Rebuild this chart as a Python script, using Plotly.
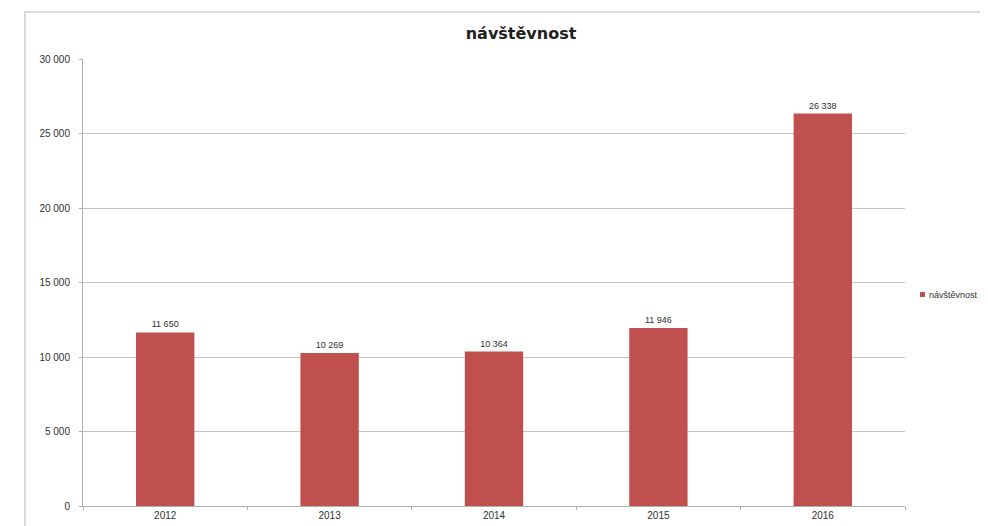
import plotly.graph_objects as go

categories = ["2012", "2013", "2014", "2015", "2016"]
values = [11650, 10269, 10364, 11946, 26338]
series_name = "návštěvnost"
title_text = "návštěvnost"
y_ticks = [0, 5000, 10000, 15000, 20000, 25000, 30000]

BAR_COLOR = "#C0504D"
TXT = "#303030"
FONT = "Liberation Sans"

W, H = 988, 526
# plot area in figure pixels (page has 8px body offset)
L, R, T, B = 75, 897, 51, 498
pw, ph = R - L, B - T


def px(x):
    return (x - L) / pw


def py(y):
    return (B - y) / ph


fig = go.Figure()
fig.add_trace(go.Bar(
    x=categories, y=values, name=series_name,
    marker=dict(color=BAR_COLOR, line=dict(width=0)),
    texttemplate="%{y:,}", textposition="outside",
    textfont=dict(size=9, color=TXT, family=FONT),
    cliponaxis=False, showlegend=False,
))

fig.update_layout(
    width=W, height=H,
    margin=dict(l=L, r=W - R, t=T, b=H - B, autoexpand=False),
    paper_bgcolor="white", plot_bgcolor="white",
    separators=", ",
    bargap=0.645,
    showlegend=False,
    title=dict(text="<b>" + title_text + "</b>", x=513 / W, xanchor="center",
               y=1 - 25 / H, yanchor="middle",
               font=dict(size=16, color="#202020", family="DejaVu Sans")),
    xaxis=dict(showline=True, linecolor="#b0b0b0", linewidth=1,
               ticks="outside", ticklen=3, tickcolor="#b0b0b0",
               tickson="boundaries", showgrid=False,
               tickfont=dict(size=10, color=TXT, family=FONT)),
    yaxis=dict(range=[0, 30000], tickvals=y_ticks, tickformat=",",
               showline=True, linecolor="#b0b0b0", linewidth=1,
               ticks="outside", ticklen=3, tickcolor="#b0b0b0",
               ticklabelstandoff=7,
               showgrid=True, gridcolor="#c4c4c4", gridwidth=1,
               zeroline=False,
               tickfont=dict(size=10, color=TXT, family=FONT)),
)

# legend (emulated so it fits inside the window)
fig.add_shape(type="rect", xref="paper", yref="paper",
              x0=px(912), x1=px(917), y0=py(289), y1=py(284),
              line=dict(width=0), fillcolor=BAR_COLOR)
fig.add_annotation(xref="paper", yref="paper", x=px(919), y=py(286.5),
                   xanchor="left", yanchor="middle", showarrow=False,
                   text=series_name, font=dict(size=9, color=TXT, family=FONT))

# outer chart frame
fig.add_shape(type="rect", xref="paper", yref="paper",
              x0=px(17), x1=px(W + 30),
              y0=py(H + 30), y1=py(4),
              line=dict(color="#d0d0d0", width=1.5), fillcolor="rgba(0,0,0,0)",
              layer="below")

fig.write_html("out.html")
